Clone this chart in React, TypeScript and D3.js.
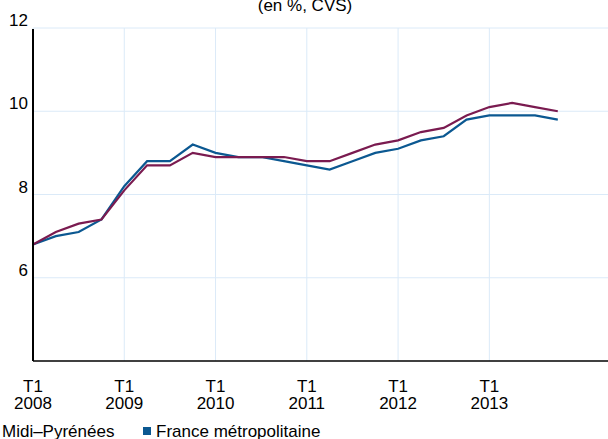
import React from 'react';
import * as d3 from 'd3';

const years = ['2008', '2009', '2010', '2011', '2012', '2013'];
const midiPyrenees = [
  6.8, 7.1, 7.3, 7.4,
  8.1, 8.7, 8.7, 9.0,
  8.9, 8.9, 8.9, 8.9,
  8.8, 8.8, 9.0, 9.2,
  9.3, 9.5, 9.6, 9.9,
  10.1, 10.2, 10.1, 10.0,
];
const franceMetro = [
  6.8, 7.0, 7.1, 7.4,
  8.2, 8.8, 8.8, 9.2,
  9.0, 8.9, 8.9, 8.8,
  8.7, 8.6, 8.8, 9.0,
  9.1, 9.3, 9.4, 9.8,
  9.9, 9.9, 9.9, 9.8,
];
const yTicks = [6, 8, 10, 12];

const W = 608;
const H = 439;
const font = '"Liberation Sans", Arial, sans-serif';
const fs = 17;

export default function App() {
  const x = d3.scaleLinear().domain([0, 25.2]).range([33, 608]);
  const y = d3.scaleLinear().domain([4, 12]).range([361, 28]);

  const line = d3
    .line<number>()
    .x((d, i) => x(i))
    .y((d) => y(d));

  return (
    <svg
      width={W}
      height={H}
      style={{ position: 'absolute', left: 0, top: 0, fontFamily: font }}
    >
      <text x={305} y={11} textAnchor="middle" fontSize={fs}>
        (en %, CVS)
      </text>
      {/* grid */}
      {yTicks.map((t) => (
        <line key={t} x1={33} x2={608} y1={y(t)} y2={y(t)} stroke="#dbeaf8" strokeWidth={1} />
      ))}
      {years.map((yr, i) => (
        <line key={yr} x1={x(i * 4)} x2={x(i * 4)} y1={y(12)} y2={y(4)} stroke="#dbeaf8" strokeWidth={1} />
      ))}
      {/* y labels */}
      {yTicks.map((t) => (
        <text key={t} x={28} y={y(t) - 2} textAnchor="end" fontSize={fs}>
          {t}
        </text>
      ))}
      {/* lines */}
      <path d={line(franceMetro) || ''} fill="none" stroke="#0b5891" strokeWidth={2.2} />
      <path d={line(midiPyrenees) || ''} fill="none" stroke="#7a1b50" strokeWidth={2.2} />
      {/* axes */}
      <line x1={33} x2={33} y1={y(12) + 1} y2={y(4)} stroke="#000" strokeWidth={2} />
      <line x1={33} x2={608} y1={y(4)} y2={y(4)} stroke="#000" strokeWidth={1.5} />
      {/* x labels */}
      {years.map((yr, i) => (
        <g key={yr} fontSize={fs} textAnchor="middle">
          <text x={x(i * 4)} y={392}>T1</text>
          <text x={x(i * 4)} y={409}>{yr}</text>
        </g>
      ))}
      {/* legend */}
      <rect x={-12} y={427} width={8} height={8} fill="#7a1b50" />
      <text x={2} y={437} fontSize={fs}>Midi–Pyrénées</text>
      <rect x={143} y={427} width={8} height={8} fill="#0b5891" />
      <text x={156} y={437} fontSize={fs}>France métropolitaine</text>
    </svg>
  );
}
